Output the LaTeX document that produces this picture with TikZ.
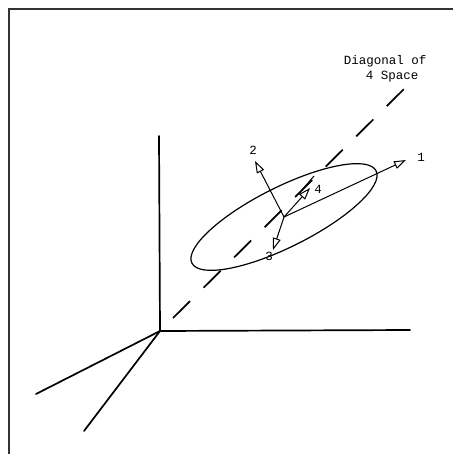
\documentclass[tikz,border=0pt]{standalone}
\usepackage{fontspec}
\setmonofont{Liberation Mono}
\usetikzlibrary{arrows.meta}
\begin{document}
\begin{tikzpicture}[x=1pt,y=-1pt,
  axis/.style={line width=1.7pt,line cap=round},
  diag/.style={line width=1.7pt,dash pattern=on 24pt off 19pt},
  vec/.style={line width=1pt,-{Triangle[open,length=12pt,width=8pt,line width=1pt]}},
  lbl/.style={font=\ttfamily\fontsize{12.5}{14}\selectfont,inner sep=0pt}]
\useasboundingbox (0,0) rectangle (453,454);
\fill[white] (0,0) rectangle (453,454);
% frame
\draw[line width=1.3pt,black!80] (9,454) -- (9,9) -- (453,9);
% axes
\coordinate (O) at (160,331);
\coordinate (up) at (159,136);
\coordinate (right) at (410,330);
\coordinate (left) at (36,394);
\coordinate (down) at (84,431);
\draw[axis] (O) -- (up);
\draw[axis] (O) -- (right);
\draw[axis] (O) -- (left);
\draw[axis] (O) -- (down);
% diagonal
\coordinate (d0) at (173,318);
\coordinate (d1) at (405,88);
\draw[diag] (d0) -- (d1);
% ellipse
\coordinate (c) at (284,217);
\draw[line width=1.2pt] (c) ellipse[x radius=103pt,y radius=30pt,rotate=26.6];
% vectors
\coordinate (t1) at (406,160);
\coordinate (t2) at (255,161);
\coordinate (t3) at (273,250);
\coordinate (t4) at (310,188);
\coordinate (e4a) at (302,190);
\coordinate (e4) at (314,176);
\draw[vec] (c) -- (t1);
\draw[vec] (c) -- (t2);
\draw[vec] (c) -- (t3);
\draw[vec] (c) -- (t4);
\draw[line width=1pt] (e4a) -- (e4);
% labels
\node[lbl] (l1) at (421,157) {1};
\node[lbl] (l2) at (253,150) {2};
\node[lbl] (l3) at (269,256) {3};
\node[lbl] (l4) at (318,189) {4};
\node[lbl] (dg1) at (385,61) {Diagonal of};
\node[lbl] (dg2) at (392,77) {4 Space};
\end{tikzpicture}
\end{document}
